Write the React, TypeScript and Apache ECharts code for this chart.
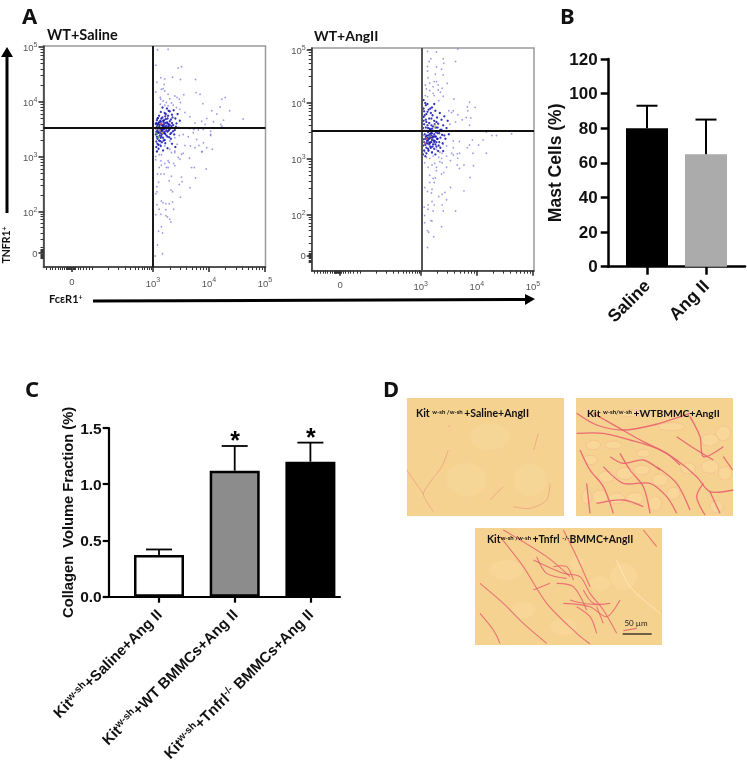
import React, { useEffect, useRef } from "react";
import * as echarts from "echarts";

// ---------- Flow cytometry (values in decades on the biexponential display scale) ----------
const flowSparse1 = [
  [3.08,3.11],[3.11,3.04],[3.15,3.04],[3.33,3.08],[3.39,3.11],[3.51,3.05],[3.88,3.10],[3.65,2.98],[3.05,3.01],[3.05,2.95],[3.14,2.93],[3.27,2.93],[3.29,2.90],[3.37,2.88],[3.45,2.99],[3.48,2.96],[3.21,2.88],[3.15,2.85],[3.39,2.84],[3.27,2.81],[3.24,2.81],[3.11,2.81],[3.69,2.81],[3.74,2.81],[3.95,2.78],[3.08,2.69],[3.14,2.69],[3.20,2.69],[3.33,2.65],[3.51,2.63],[3.76,2.62],[3.29,2.57],[3.52,2.55],[3.47,2.50],[3.10,2.54],[3.66,2.44],[3.07,2.46],[3.07,2.37],[3.32,2.40],[3.35,2.37],[3.05,2.33],[3.49,2.27],[3.15,2.20],[3.18,2.17],[3.23,2.15],[3.29,2.15],[3.35,2.18],[3.07,2.13],[3.11,2.05],[3.37,2.05],[3.23,2.04],[3.14,1.96],[3.05,1.95],[3.23,1.93],[3.26,1.91],[3.30,1.87],[3.32,1.82],[3.15,1.73],[3.10,1.65],[3.17,1.62],[3.08,1.40],[3.17,1.24],[3.04,1.20],
  [3.08,4.95],[3.27,4.96],[3.05,4.67],[3.45,4.62],[3.51,4.64],[3.14,4.44],[3.21,4.42],[3.35,4.45],[3.07,4.36],[3.49,4.41],[3.76,4.41],[3.20,4.32],[3.15,4.23],[3.18,4.24],[3.21,4.20],[3.05,4.18],[3.77,4.17],[3.84,4.14],[3.39,4.11],[3.27,4.14],[3.13,4.08],[3.43,4.08],[3.47,4.05],[3.55,4.13],[3.14,4.05],[3.30,4.06],[3.18,4.02],[3.24,3.99],[3.33,3.98],[3.49,3.99],[4.23,4.05],[4.29,4.08],[3.89,3.97],[3.13,3.96],[3.21,3.94],[3.27,3.93],[3.36,3.94],[3.42,3.90],[3.48,3.87],[4.20,3.91],[4.37,3.84],[4.05,3.84],[3.57,3.81],[4.14,3.78],[3.66,3.73],[3.96,3.70],[4.26,3.67],[4.61,3.69],[4.08,3.64],[3.87,3.65],[3.75,3.62],[3.93,3.59],[4.21,3.59],
  [3.57,3.53],[3.65,3.52],[3.73,3.50],[3.81,3.49],[3.90,3.50],[4.03,3.47],[4.23,3.56],[3.72,3.44],[4.03,3.41],[3.54,3.41],[3.63,3.37],[3.78,3.32],[3.90,3.26],[4.03,3.39],[3.57,3.21],[3.67,3.20],[3.43,3.23],[3.82,3.21],[3.96,3.17],[4.06,3.14],[3.87,3.09],[3.75,3.17],[3.30,3.14],[3.39,3.08],[3.21,3.20],[3.54,3.07],[3.13,3.23],[3.30,3.29],[3.39,3.35],[3.47,3.39],
];
const flowDense1 = [
  [3.06,3.62],[3.08,3.48],[3.09,3.71],[3.11,3.55],[3.12,3.39],[3.13,3.66],[3.14,3.82],[3.15,3.47],[3.16,3.58],[3.17,3.72],[3.18,3.35],[3.19,3.63],[3.2,3.51],[3.21,3.8],[3.22,3.42],[3.23,3.69],[3.24,3.57],[3.25,3.88],[3.26,3.46],[3.27,3.75],[3.28,3.6],[3.29,3.36],[3.3,3.83],[3.31,3.52],[3.32,3.68],[3.33,3.44],[3.34,3.77],[3.36,3.58],[3.37,3.85],[3.39,3.49],[3.4,3.7],[3.42,3.61],[3.44,3.78],[3.46,3.53],[3.48,3.66],[3.05,3.41],[3.07,3.55],[3.08,3.33],[3.09,3.6],[3.1,3.45],[3.11,3.75],[3.12,3.52],[3.13,3.29],[3.14,3.64],[3.15,3.38],[3.16,3.49],[3.17,3.9],[3.18,3.57],[3.19,3.44],[3.2,3.67],[3.21,3.31],[3.22,3.55],[3.23,3.78],[3.24,3.48],[3.25,3.63],[3.26,3.37],[3.27,3.54],[3.28,3.84],[3.29,3.5],[3.3,3.65],[3.31,3.42],[3.33,3.56],[3.35,3.72],[3.38,3.41],[3.41,3.55],[3.05,3.52],[3.06,3.28],[3.07,3.67],[3.08,3.58],[3.09,3.44],[3.1,3.22],[3.11,3.63],[3.12,3.47],[3.13,3.53],[3.14,3.35],[3.15,3.7],[3.16,3.42],[3.17,3.54],[3.18,3.66],[3.19,3.3],[3.2,3.59],[3.21,3.46],[3.22,3.74],[3.24,3.39],[3.26,3.61],[3.28,3.48],[3.3,3.58],[3.32,3.33],[3.34,3.62],[3.36,3.47],[3.05,3.6],[3.06,3.46],[3.07,3.37],[3.08,3.7],[3.09,3.52],[3.1,3.62],[3.11,3.3],[3.12,3.58],[3.13,3.43],[3.14,3.5],[3.15,3.6],[3.16,3.27],[3.17,3.46],[3.18,3.5],[3.19,3.55],[3.2,3.43],[3.22,3.62],[3.24,3.52],[3.26,3.7],[3.28,3.56],[3.06,3.18],[3.08,3.24],[3.1,3.15],[3.14,3.2],[3.18,3.12],[3.22,3.25],[3.26,3.16],[3.34,3.24],[3.4,3.18],[3.07,3.1],
];
const flowHot1 = [[3.09,3.55],[3.12,3.48],[3.07,3.42],[3.15,3.6],[3.1,3.36],[3.17,3.44]];

const flowSparse2 = [
  [3.12,4.92],[3.28,4.91],[3.66,4.96],[3.18,4.79],[3.40,4.79],[3.62,4.74],[3.15,4.74],[3.41,4.71],[3.12,4.65],[3.28,4.64],[3.12,4.57],[3.37,4.60],[3.26,4.51],[3.40,4.50],[3.13,4.45],[3.24,4.38],[3.28,4.38],[3.16,4.35],[3.47,4.35],[3.08,4.32],[3.31,4.32],[3.22,4.29],[3.10,4.25],[3.38,4.26],[3.16,4.22],[3.31,4.23],[3.35,4.19],[3.22,4.17],[3.08,4.13],[3.12,4.11],[3.24,4.13],[3.40,4.12],[3.59,4.07],[3.32,4.04],[3.87,4.01],[3.83,3.93],[3.97,3.92],[3.84,3.86],[3.81,3.74],[3.89,3.73],[3.87,3.60],[3.58,3.86],[3.66,3.79],[3.55,3.83],[3.50,3.86],[3.74,3.70],[3.62,3.66],[3.52,3.62],[3.72,3.50],[4.17,3.48],[4.27,3.42],[4.35,3.42],[4.62,3.45],[3.92,3.34],[4.11,3.34],[3.58,3.32],[3.69,3.31],[3.87,3.25],[4.03,3.25],[3.58,3.20],[3.83,3.20],[3.40,3.26],[3.46,3.23],[3.93,3.10],[4.17,3.10],[3.69,3.10],[3.55,3.10],[3.38,3.10],[3.28,3.17],[3.13,3.14],[3.20,3.10],
  [3.07,3.13],[3.34,3.12],[3.46,3.05],[3.58,3.07],[3.65,3.09],[3.22,3.05],[3.10,3.03],[3.16,3.01],[3.32,3.03],[3.37,3.01],[3.66,3.01],[3.53,2.97],[3.07,2.93],[3.34,2.95],[3.38,2.93],[3.25,2.92],[3.20,2.89],[3.65,2.89],[3.77,2.89],[3.94,2.88],[3.46,2.85],[3.13,2.85],[3.28,2.85],[3.69,2.83],[3.41,2.76],[3.37,2.73],[3.28,2.79],[3.16,2.71],[3.88,2.67],[3.26,2.66],[3.22,2.65],[3.16,2.58],[3.24,2.58],[3.53,2.49],[3.07,2.49],[3.20,2.46],[3.12,2.42],[3.77,2.43],[3.19,2.39],[3.43,2.40],[3.38,2.37],[3.32,2.33],[3.46,2.27],[3.20,2.24],[3.24,2.18],[3.13,2.18],[3.38,2.18],[3.06,2.14],[3.13,2.10],[3.22,2.07],[3.40,2.07],[3.62,2.07],[3.07,1.99],[3.18,1.90],[3.20,1.89],[3.07,1.86],[3.37,1.79],[3.12,1.72],[3.14,1.69],[3.23,1.61],[3.12,1.42],
];
const flowDense2 = [
  [3.05,3.9],[3.07,3.78],[3.09,3.96],[3.1,3.66],[3.12,3.84],[3.13,3.55],[3.15,3.72],[3.16,3.44],[3.17,3.9],[3.19,3.6],[3.2,3.34],[3.21,3.78],[3.22,3.5],[3.24,3.68],[3.25,3.4],[3.26,3.86],[3.27,3.56],[3.29,3.74],[3.3,3.46],[3.31,3.63],[3.33,3.3],[3.34,3.82],[3.35,3.52],[3.37,3.7],[3.38,3.43],[3.4,3.6],[3.42,3.76],[3.44,3.36],[3.46,3.55],[3.48,3.68],[3.5,3.44],[3.04,3.55],[3.05,3.35],[3.06,3.62],[3.07,3.44],[3.08,3.25],[3.09,3.7],[3.1,3.5],[3.11,3.32],[3.12,3.6],[3.13,3.18],[3.14,3.42],[3.15,3.64],[3.16,3.28],[3.17,3.52],[3.18,3.38],[3.19,3.72],[3.2,3.46],[3.21,3.22],[3.22,3.58],[3.23,3.33],[3.24,3.44],[3.25,3.62],[3.26,3.26],[3.27,3.48],[3.28,3.66],[3.29,3.36],[3.3,3.56],[3.32,3.24],[3.33,3.46],[3.35,3.38],[3.37,3.52],[3.39,3.28],[3.42,3.42],[3.03,3.42],[3.04,3.24],[3.05,3.68],[3.06,3.15],[3.07,3.5],[3.08,3.36],[3.09,3.56],[3.1,3.2],[3.11,3.42],[3.12,3.28],[3.13,3.48],[3.14,3.3],[3.15,3.36],[3.16,3.54],[3.17,3.22],[3.18,3.46],[3.19,3.3],[3.2,3.54],[3.21,3.38],[3.22,3.26],[3.23,3.5],[3.24,3.18],[3.25,3.32],[3.27,3.4],[3.28,3.22],[3.3,3.36],[3.04,3.08],[3.06,3.3],[3.08,3.05],[3.09,3.4],[3.1,3.1],[3.11,3.28],[3.12,3.38],[3.13,3.34],[3.14,3.15],[3.15,3.26],[3.16,3.38],[3.17,3.3],[3.18,3.2],[3.19,3.42],[3.2,3.12],[3.22,3.4],[3.24,3.3],[3.26,3.08],[3.28,3.3],[3.31,3.14],[3.35,3.2],[3.4,3.14],[3.05,3.75],[3.06,3.85],[3.08,4.0],[3.1,3.8],[3.14,3.88],[3.18,3.82],[3.05,4.05],[3.12,3.98],[3.2,3.92],[3.24,3.98],
];
const flowHot2 = [[3.1,3.36],[3.13,3.3],[3.08,3.28],[3.16,3.4],[3.26,3.6],[3.24,3.56]];

const flowXMajor1 = [1.55, 3, 4, 5];
const flowYMajor1 = [1.25, 2, 3, 4, 5];
const flowXMajor2 = [1.56, 3, 4, 5];
const flowYMajor2 = [1.27, 2, 3, 4, 4.95];
const flowXMinor = [1.1,1.16,1.21,1.26,1.3,1.34,1.38,1.42,1.45,1.46,1.47,1.48,1.49,1.5,1.51,1.52,1.53,1.54,1.57,1.59,1.62,1.66,1.7,1.75,1.8,1.86,1.92,2.2,2.38,2.5,2.6,2.68,2.74,2.8,2.85,2.9,2.94,2.97,3.3,3.48,3.6,3.7,3.78,3.85,3.9,3.95,4.3,4.48,4.6,4.7,4.78,4.85,4.9,4.95];
const flowYMinor = [1.15,1.17,1.2,1.22,1.24,1.26,1.28,1.3,1.32,1.35,1.5,1.62,1.72,1.8,1.86,1.92,1.96,2.3,2.48,2.6,2.7,2.78,2.85,2.9,2.95,3.3,3.48,3.6,3.7,3.78,3.85,3.9,3.95,4.3,4.48,4.6,4.7,4.78,4.85,4.9,4.95];

// ---------- Panel B ----------
const mastCategories = ["Saline", "Ang II"];
const mastValues = [80, 65];
const mastErrorTops = [93, 85];
const mastColors = ["#000000", "#ababab"];

// ---------- Panel C ----------
const collagenLabels = [
  "Kit{s|w-sh}+Saline+Ang II",
  "Kit{s|w-sh}+WT BMMCs+Ang II",
  "Kit{s|w-sh}+Tnfrl{s|-/-} BMMCs+Ang II",
];
const collagenValues = [0.37, 1.12, 1.2];
const collagenErrorTops = [0.42, 1.34, 1.37];
const collagenColors = ["#ffffff", "#8c8c8c", "#000000"];
const collagenStars = ["", "*", "*"];

// ---------- Histology sketches (strokes traced on the micrographs) ----------
const fibres1 = [
  [[445,190],[438,215],[432,240]],
  [[175,240],[155,290],[125,330],[100,370],[110,395],[130,425]],
  [[50,300],[85,350],[100,372]],
  [[480,340],[470,390],[420,415],[370,410]],
  [[340,350],[300,390]],
  [[180,165],[175,172]],
];
const fibres2 = [
  [[560,130],[620,165],[700,180],[790,165],[900,130]],
  [[560,190],[640,190],[720,210],[800,235],[860,270],[920,320],[960,365],[1030,360]],
  [[610,130],[680,170],[760,215],[830,250],[870,285]],
  [[570,240],[600,300],[640,350],[670,430]],
  [[640,290],[700,340],[780,340],[830,380],[860,430]],
  [[900,140],[930,200],[940,260],[1000,230]],
  [[800,290],[860,340],[900,420]],
  [[960,365],[990,430]],
  [[590,340],[600,430]],
  [[690,250],[720,300],[760,350],[780,430]],
  [[940,340],[920,380],[945,435]],
  [[1000,260],[1028,300]],
  [[660,260],[700,280],[760,270],[810,300]],
  [[620,400],[700,390],[760,410]],
  [[860,200],[920,240],[970,270]],
];
const fibres3 = [
  [[330,500],[400,590],[470,700],[560,790],[600,822]],
  [[430,570],[520,610],[570,620],[600,670],[640,720],[680,790]],
  [[520,480],[560,560],[600,650]],
  [[520,700],[600,710],[650,740],[690,690]],
  [[270,640],[340,700],[400,760],[470,820]],
  [[270,730],[310,780],[330,820]],
  [[760,480],[800,530]],
  [[500,640],[550,650],[590,720]],
  [[430,660],[480,640]],
  [[620,710],[640,760]],
  [[700,782],[740,775]],
  [[340,480],[470,560],[540,620]],
  [[540,690],[580,700],[625,705]],
  [[440,560],[470,610],[530,625]],
  [[580,660],[610,700],[660,700]],
  [[560,710],[600,740],[620,790]],
  [[490,590],[530,590],[550,630]],
];
const paleFibres3 = [[[680,570],[720,650],[810,730]]];
const cells2 = [[600,270,22,14],[650,320,24,16],[705,310,26,18],[755,300,24,14],[810,330,24,18],[630,380,22,20],[680,385,24,16],[735,385,26,18],[795,400,20,22],[850,370,20,18],[590,380,14,22],[960,290,26,20],[1005,310,20,20],[980,410,20,18],[895,295,22,16],[960,210,26,18],[845,170,40,12],[760,250,20,12],[670,225,26,12],[610,225,22,14],[1000,190,22,22],[720,130,40,10]];
const patches3 = [[630,640,30,22],[700,620,40,40],[350,600,50,30],[560,580,20,22],[400,720,35,25],[520,770,40,25]];
const patches1 = [[230,330,60,50],[300,200,60,40],[420,330,50,50]];

const SANS = "Liberation Sans, Arial, sans-serif";
const LATO = "Lato, Carlito, sans-serif";
const SCI = "Liberation Sans, Arial, sans-serif";
const LETTER = `bold 22px "Noto Sans", sans-serif`;

const zp = (x: number, y: number) => [390 + x / 3, 370 + y / 3];
const FIBRE = "#e8626f";

function fibreEls(list: number[][][], stroke: string, op: number, w: number) {
  return list.map((pts) => ({
    type: "polyline",
    silent: true,
    shape: { points: pts.map(([x, y]) => zp(x, y)), smooth: 0.3 },
    style: { stroke, fill: "none", lineWidth: w, opacity: op },
    z: 3,
  }));
}
function patchEls(list: number[][], op: number, stroke?: string) {
  return list.map(([x, y, a, b]) => {
    const [cx, cy] = zp(x, y);
    return {
      type: "ellipse", silent: true, shape: { cx, cy, rx: a / 3, ry: b / 3 },
      style: { fill: "#fbe4ac", opacity: op, stroke: stroke ?? "none", lineWidth: stroke ? 0.7 : 0 }, z: 2,
    };
  });
}
function micro(x: number, y: number, w: number, h: number) {
  return { type: "rect", silent: true, shape: { x, y, width: w, height: h }, style: { fill: "#f6d291" }, z: 1 };
}
function ptxt(text: string, x: number, y: number, size: number, rich?: any, extra: any = {}) {
  return {
    type: "text",
    silent: true,
    x,
    y,
    z: 10,
    style: { text, font: `bold ${size}px ${LATO}`, fill: "#111", textVerticalAlign: "middle", textAlign: "left", rich, ...extra },
  };
}

function flowGrid(left: number, top: number, width: number, height: number) {
  return { left, top, width, height, show: true, borderColor: "#9a9a9a", borderWidth: 1.5, backgroundColor: "transparent", containLabel: false };
}
const flowLabel = (majors: number[], names: string[]) => (v: number) => {
  const i = majors.findIndex((m) => Math.abs(m - v) < 1e-6);
  return names[i] === "0" ? "0" : `{b|10}{s|${names[i]}}`;
};
const flowRich = {
  b: { fontSize: 9.5, color: "#555", fontFamily: SCI, verticalAlign: "bottom" },
  s: { fontSize: 7, color: "#555", fontFamily: SCI, padding: [0, 0, 5, 0] },
};
function flowAxisPair(dim: "x" | "y", gridIndex: number, min: number, max: number, majors: number[], minors: number[], names: string[]) {
  const position = dim === "x" ? "bottom" : "left";
  const base = { type: "value", gridIndex, min, max, position, splitLine: { show: false } };
  return [
    {
      ...base,
      axisLine: { show: true, onZero: false, lineStyle: { color: "#333", width: 1.5 } },
      axisTick: { show: true, length: 5, customValues: majors, inside: false, lineStyle: { color: "#222", width: 1.5 } },
      axisLabel: {
        show: true,
        customValues: majors,
        formatter: flowLabel(majors, names),
        margin: dim === "x" ? 9 : 6,
        color: "#555",
        fontSize: 9.5,
        fontFamily: SCI,
        rich: flowRich,
        hideOverlap: false,
      },
    },
    {
      ...base,
      axisLine: { show: false, onZero: false },
      axisTick: { show: true, length: 3, customValues: minors, lineStyle: { color: "#333", width: 1 } },
      axisLabel: { show: false },
    },
  ];
}
function flowSeries(
  xi: number, yi: number, sparse: number[][], dense: number[][], hot: number[][],
  qx: number, qy: number, vColor: string, hotColors: string[],
) {
  const common = { type: "scatter", xAxisIndex: xi, yAxisIndex: yi, silent: true, symbol: "circle" };
  return [
    { ...common, data: sparse, symbolSize: 1.7, itemStyle: { color: "#4a4ad8", opacity: 0.55 }, z: 2 },
    { ...common, data: dense, symbolSize: 2.3, itemStyle: { color: "#1212b0", opacity: 0.85 }, z: 3 },
    { ...common, data: hot, symbolSize: 2.4, itemStyle: { color: (p: any) => hotColors[p.dataIndex % hotColors.length], opacity: 0.8 }, z: 4 },
    {
      ...common,
      data: [],
      z: 5,
      markLine: {
        silent: true,
        symbol: "none",
        label: { show: false },
        animation: false,
        data: [
          { xAxis: qx, lineStyle: { color: vColor, width: 2, type: "solid" } },
          { yAxis: qy, lineStyle: { color: "#111", width: 1.8, type: "solid" } },
        ],
      },
    },
  ];
}

function errorSeries(xi: number, yi: number, rows: any[], capHalf: number, lw: number) {
  return {
    type: "custom",
    xAxisIndex: xi,
    yAxisIndex: yi,
    silent: true,
    z: 5,
    encode: { x: 0, y: 2 },
    data: rows,
    renderItem: (_p: any, api: any) => {
      const x = api.value(0);
      const a = api.coord([x, api.value(1)]);
      const b = api.coord([x, api.value(2)]);
      const star = rows[_p.dataIndex][3];
      const st = { stroke: "#000", lineWidth: lw };
      const children: any[] = [
        { type: "line", shape: { x1: a[0], y1: a[1], x2: b[0], y2: b[1] }, style: st },
        { type: "line", shape: { x1: b[0] - capHalf, y1: b[1], x2: b[0] + capHalf, y2: b[1] }, style: st },
      ];
      if (star) {
        children.push({
          type: "text",
          style: { text: star, x: b[0] + 0.5, y: b[1] - 6, font: `bold 25px ${SANS}`, fill: "#000", textAlign: "center", textVerticalAlign: "middle" },
        });
      }
      return { type: "group", children };
    },
  };
}

export default function App() {
  const ref = useRef<HTMLDivElement>(null);
  useEffect(() => {
    const chart = echarts.init(ref.current!, null, { renderer: "svg" });

    const xAxes = [
      ...flowAxisPair("x", 0, 1.045, 5.01, flowXMajor1, flowXMinor, ["0", "3", "4", "5"]),
      ...flowAxisPair("x", 1, 1.054, 5.02, flowXMajor2, flowXMinor, ["0", "3", "4", "5"]),
      {
        type: "value", gridIndex: 2, min: 0.351, max: 2.661, position: "bottom", splitLine: { show: false },
        axisLine: { show: true, onZero: false, lineStyle: { color: "#000", width: 2.5 } },
        axisTick: { show: true, length: 8, customValues: [1, 2], lineStyle: { color: "#000", width: 2.5 } },
        axisLabel: {
          show: true, customValues: [1, 2], rotate: 45, margin: 16,
          formatter: (v: number) => mastCategories[v - 1],
          fontFamily: SANS, fontWeight: "bold", fontSize: 17.5, color: "#111",
        },
      },
      {
        type: "value", gridIndex: 3, min: 0.3355, max: 3.391, position: "bottom", splitLine: { show: false },
        axisLine: { show: true, onZero: false, lineStyle: { color: "#000", width: 2.2 } },
        axisTick: { show: true, length: 6, customValues: [1, 2, 3], lineStyle: { color: "#000", width: 2.2 } },
        axisLabel: {
          show: true, customValues: [1, 2, 3], rotate: 45, margin: 15,
          formatter: (v: number) => collagenLabels[v - 1],
          fontFamily: SANS, fontWeight: "bold", fontSize: 15, color: "#111",
          rich: { s: { fontFamily: SANS, fontWeight: "bold", fontSize: 10, color: "#111", padding: [0, 0, 6, 0] } },
        },
      },
    ];
    const yAxes = [
      ...flowAxisPair("y", 0, 1.0, 5.018, flowYMajor1, flowYMinor, ["0", "2", "3", "4", "5"]),
      ...flowAxisPair("y", 1, 1.005, 4.98, flowYMajor2, flowYMinor, ["0", "2", "3", "4", "5"]),
      {
        type: "value", gridIndex: 2, min: 0, max: 120, interval: 20, position: "left", splitLine: { show: false },
        axisLine: { show: true, onZero: false, lineStyle: { color: "#000", width: 2.5 } },
        axisTick: { show: true, length: 8, lineStyle: { color: "#000", width: 2.5 } },
        axisLabel: { margin: 11, fontFamily: SANS, fontWeight: "bold", fontSize: 17, color: "#111" },
        name: "Mast Cells (%)", nameLocation: "middle", nameRotate: 90, nameGap: 45,
        nameTextStyle: { fontFamily: SANS, fontWeight: "bold", fontSize: 17.5, color: "#111" },
      },
      {
        type: "value", gridIndex: 3, min: 0, max: 1.5, interval: 0.5, position: "left", splitLine: { show: false },
        axisLine: { show: true, onZero: false, lineStyle: { color: "#000", width: 2.2 } },
        axisTick: { show: true, length: 6, lineStyle: { color: "#000", width: 2.2 } },
        axisLabel: { margin: 7, fontFamily: SANS, fontWeight: "bold", fontSize: 15.5, color: "#111", formatter: (v: number) => v.toFixed(1) },
        name: "Collagen  Volume Fraction (%)", nameLocation: "middle", nameRotate: 90, nameGap: 33,
        nameTextStyle: { fontFamily: SANS, fontWeight: "bold", fontSize: 14.7, color: "#111" },
      },
    ];

    const sup = { fontSize: 6, fontWeight: "bold", fontFamily: LATO, color: "#111", padding: [0, 0, 4, 0] };
    const cap = (size: number) => ({ m: { fontSize: size, fontWeight: "bold", fontFamily: LATO, color: "#111" }, s: sup });

    const graphic = [
      // panel letters
      ptxt("A", 22, 15, 22, undefined, { font: LETTER }),
      ptxt("B", 560, 15, 22, undefined, { font: LETTER }),
      ptxt("C", 25, 388, 22, undefined, { font: LETTER }),
      ptxt("D", 383, 388, 22, undefined, { font: LETTER }),
      // flow panel titles
      ptxt("WT+Saline", 47, 34.5, 14.5),
      ptxt("WT+AngII", 314, 35.5, 14),
      // axis arrows
      { type: "line", silent: true, shape: { x1: 7, y1: 213, x2: 7, y2: 55 }, style: { stroke: "#000", lineWidth: 3 } },
      { type: "polygon", silent: true, shape: { points: [[1, 57], [13, 57], [7, 47]] }, style: { fill: "#000" } },
      { type: "line", silent: true, shape: { x1: 93, y1: 301, x2: 527, y2: 299.5 }, style: { stroke: "#000", lineWidth: 3 } },
      { type: "polygon", silent: true, shape: { points: [[525, 294], [525, 305], [535, 299]] }, style: { fill: "#000" } },
      {
        type: "text", silent: true, x: 6, y: 245, rotation: Math.PI / 2, z: 10,
        style: { text: "TNFR1{s|+}", font: `bold 10.5px ${LATO}`, fill: "#111", textAlign: "center", textVerticalAlign: "middle", rich: { s: { fontSize: 7, fontWeight: "bold", fontFamily: LATO, padding: [0, 0, 4, 0] } } },
      },
      {
        type: "text", silent: true, x: 49, y: 298.5, z: 10,
        style: { text: "Fc\u03b5R1{s|+}", font: `bold 11px ${LATO}`, fill: "#111", textAlign: "left", textVerticalAlign: "middle", rich: { s: { fontSize: 7, fontWeight: "bold", fontFamily: LATO, padding: [0, 0, 4, 0] } } },
      },
      // micrographs
      micro(407, 398, 157, 118),
      micro(576, 398, 157, 118),
      micro(475, 528, 187, 117),
      ...patchEls(patches1, 0.2),
      ...patchEls(cells2, 0.32, "#ec8a88"),
      ...patchEls(patches3, 0.25),
      ...fibreEls(fibres1, "#ea9a80", 0.7, 1),
      ...fibreEls(fibres2, FIBRE, 0.9, 1.3),
      ...fibreEls(fibres3, FIBRE, 0.85, 1.1),
      ...fibreEls(paleFibres3, "#fff0c8", 0.7, 1),
      ptxt("{m|Kit }{s|w-sh /w-sh }{m|+Saline+AngII}", 416, 413, 10.5, cap(10.5)),
      ptxt("{m|Kit }{s|w-sh/w-sh }{m|+WTBMMC+AngII}", 587, 413, 10.3, cap(10.3)),
      ptxt("{m|Kit}{s|w-sh /w-sh }{m|+Tnfrl }{s|-/-}{m|BMMC+AngII}", 487, 539, 10.4, cap(10.4)),
      {
        type: "text", silent: true, x: 636, y: 623, z: 10,
        style: { text: "50 \u00b5m", font: `8px ${LATO}`, fill: "#222", textAlign: "center", textVerticalAlign: "middle" },
      },
      { type: "line", silent: true, z: 10, shape: { x1: 622.7, y1: 634, x2: 651.7, y2: 634 }, style: { stroke: "#111", lineWidth: 1.2 } },
    ];

    chart.setOption({
      animation: false,
      backgroundColor: "#ffffff",
      grid: [
        flowGrid(43.5, 46, 222, 221),
        flowGrid(311.7, 48, 222.3, 222.7),
        { left: 608.7, top: 59, width: 136.3, height: 207.7 },
        { left: 108.7, top: 428, width: 231.3, height: 168.7 },
      ],
      xAxis: xAxes,
      yAxis: yAxes,
      series: [
        ...flowSeries(0, 0, flowSparse1, flowDense1, flowHot1, 3, 3.53, "#1a1a1a", ["#2e9e3c", "#e0a030", "#2e9e3c", "#d05030"]),
        ...flowSeries(2, 2, flowSparse2, flowDense2, flowHot2, 3.02, 3.5, "#555555", ["#c04040", "#808080", "#b05050", "#707070", "#d0d060", "#a0c060"]),
        {
          type: "bar", xAxisIndex: 4, yAxisIndex: 4, barWidth: 42, silent: true, z: 3,
          data: mastValues.map((v, i) => ({ value: [i + 1, v], itemStyle: { color: mastColors[i] } })),
        },
        errorSeries(4, 4, mastValues.map((v, i) => [i + 1, v, mastErrorTops[i], ""]), 10.5, 2),
        {
          type: "bar", xAxisIndex: 5, yAxisIndex: 5, barWidth: 50, silent: true, z: 3,
          data: collagenValues.map((v, i) => ({ value: [i + 1, v], itemStyle: { color: collagenColors[i], borderColor: "#000", borderWidth: 2.5 } })),
        },
        errorSeries(5, 5, collagenValues.map((v, i) => [i + 1, v, collagenErrorTops[i], collagenStars[i]]), 13, 1.8),
      ],
      graphic,
    });
    return () => chart.dispose();
  }, []);
  return <div ref={ref} style={{ position: "absolute", left: 0, top: 0, width: 747, height: 764, filter: "blur(0.35px)" }} />;
}
